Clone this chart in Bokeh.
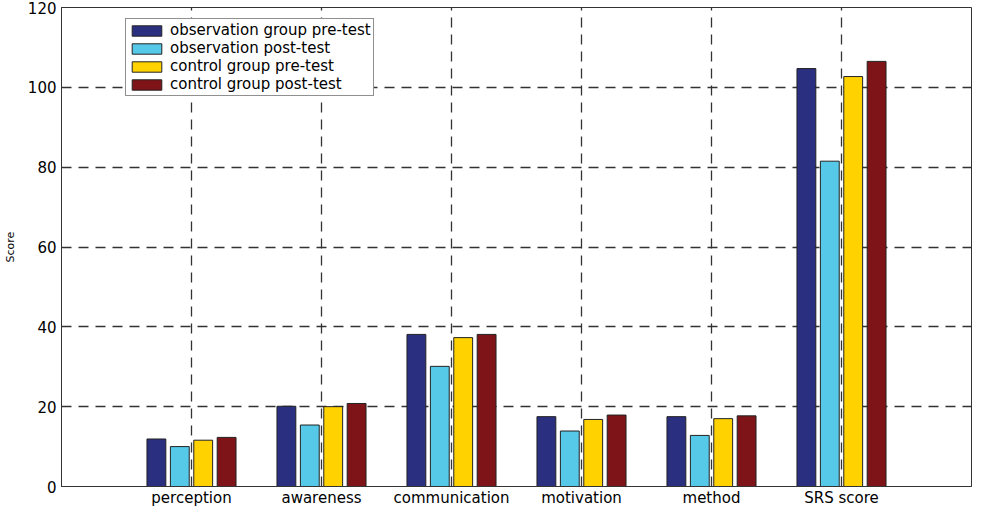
from bokeh.plotting import figure
from bokeh.models import ColumnDataSource, Range1d, FixedTicker, Legend, LegendItem
from bokeh.transform import dodge
from bokeh.embed import file_html
from bokeh.resources import INLINE

categories = ["perception", "awareness", "communication", "motivation", "method", "SRS score"]
positions = [1, 2, 3, 4, 5, 6]
obs_pre = [11.9, 20.1, 38.1, 17.5, 17.5, 104.7]
obs_post = [10.0, 15.4, 30.1, 13.9, 12.8, 81.5]
ctrl_pre = [11.6, 20.0, 37.3, 16.8, 17.0, 102.7]
ctrl_post = [12.3, 20.8, 38.1, 17.9, 17.7, 106.5]
series_names = ["observation group pre-test", "observation post-test",
                "control group pre-test", "control group post-test"]
colors = ["#2B2F80", "#56C8E8", "#FFD200", "#7F1418"]
y_ticks = [0, 20, 40, 60, 80, 100, 120]

source = ColumnDataSource(dict(x=positions, obs_pre=obs_pre, obs_post=obs_post,
                               ctrl_pre=ctrl_pre, ctrl_post=ctrl_post))

FONT = "DejaVu Sans"

p = figure(width=984, height=509, output_backend="svg", toolbar_location=None,
           x_range=Range1d(0, 7), y_range=Range1d(0, 120),
           min_border_left=55, min_border_right=13, min_border_top=7, min_border_bottom=19)
p.outline_line_color = "#333333"
p.background_fill_color = "white"
p.border_fill_color = "white"

cols = ["obs_pre", "obs_post", "ctrl_pre", "ctrl_post"]
offsets = [-0.27, -0.09, 0.09, 0.27]
items = []
for col, off, c, name in zip(cols, offsets, colors, series_names):
    r = p.vbar(x=dodge("x", off, range=p.x_range), top=col, width=0.145, source=source,
               fill_color=c, line_color="#222222", line_width=1)
    items.append(LegendItem(label=name, renderers=[r]))

p.xaxis.ticker = FixedTicker(ticks=positions)
p.xaxis.major_label_overrides = {pos: lab for pos, lab in zip(positions, categories)}
p.yaxis.ticker = FixedTicker(ticks=y_ticks)
p.yaxis.axis_label = "Score"
for ax in (p.xaxis[0], p.yaxis[0]):
    ax.major_tick_in = 6
    ax.major_tick_out = 0
    ax.minor_tick_line_color = None
    ax.axis_line_color = "#333333"
    ax.major_tick_line_color = "#333333"
    ax.major_label_text_font = FONT
    ax.major_label_text_font_size = "15px"
    ax.major_label_text_color = "black"
p.xaxis.major_label_standoff = 2
p.yaxis.major_label_standoff = 5
p.yaxis.axis_label_text_font = FONT
p.yaxis.axis_label_text_font_size = "11px"
p.yaxis.axis_label_text_font_style = "normal"
p.yaxis.axis_label_text_color = "black"
p.yaxis.axis_label_standoff = 8

for g in (p.xgrid[0], p.ygrid[0]):
    g.grid_line_color = "#333333"
    g.grid_line_dash = "10 7"
    g.grid_line_width = 1.3
p.xgrid.ticker = FixedTicker(ticks=positions)
p.ygrid.ticker = FixedTicker(ticks=y_ticks)

legend = Legend(items=items, location=(64, 390))
legend.label_text_font = FONT
legend.label_text_font_size = "15px"
legend.label_text_color = "black"
legend.glyph_width = 37
legend.glyph_height = 13
legend.label_height = 13
legend.spacing = -1
legend.padding = 2
legend.margin = 0
legend.label_standoff = 5
legend.border_line_color = "#222222"
legend.border_line_width = 1
legend.background_fill_alpha = 1
p.add_layout(legend, "center")

open("out.html", "w").write(file_html(p, INLINE))
